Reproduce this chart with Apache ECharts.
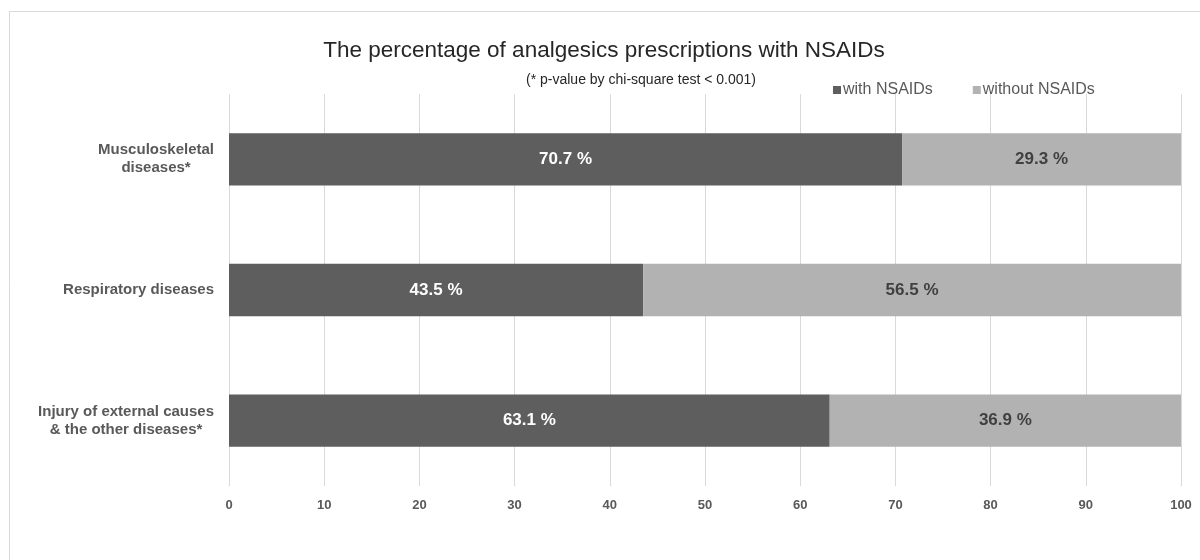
<!DOCTYPE html>
<html><head><meta charset="utf-8">
<script src="https://cdn.jsdelivr.net/npm/echarts@6/dist/echarts.min.js"></script>
<style>html,body{margin:0;padding:0;background:#fff}#c{width:1200px;height:560px}</style>
</head><body><div id="c"></div>
<script>
const categories = ['Musculoskeletal\ndiseases*', 'Respiratory diseases', 'Injury of external causes\n& the other diseases*'];
const withNSAIDs = [70.7, 43.5, 63.1];
const withoutNSAIDs = [29.3, 56.5, 36.9];
const seriesNames = ['with NSAIDs', 'without NSAIDs'];
const xTicks = [0, 10, 20, 30, 40, 50, 60, 70, 80, 90, 100];

const sans = '"Liberation Sans", Arial, sans-serif';
const chart = echarts.init(document.getElementById('c'));
chart.setOption({
  animation: false,
  backgroundColor: '#fff',
  graphic: [{type: 'rect', shape: {x: 9.5, y: 11.5, width: 1200, height: 560}, style: {fill: 'none', stroke: '#d9d9d9', lineWidth: 1}}],
  title: [
    {text: 'The percentage of analgesics prescriptions with NSAIDs', left: 599, top: 34, textAlign: 'center',
     textStyle: {fontFamily: sans, fontSize: 22.5, fontWeight: 'normal', color: '#262626'}},
    {text: '(* p-value by chi-square test < 0.001)', left: 636, top: 68, textAlign: 'center',
     textStyle: {fontFamily: sans, fontSize: 14, fontWeight: 'normal', color: '#262626'}}
  ],
  legend: {
    left: 828, top: 77, itemWidth: 8, itemHeight: 8, itemGap: 40, icon: 'rect',
    textStyle: {fontFamily: sans, fontSize: 16, color: '#595959', padding: [0, 0, 0, -3]},
    data: seriesNames
  },
  grid: {left: 229, right: 19, top: 94, bottom: 74, containLabel: false},
  xAxis: {
    type: 'value', min: 0, max: 100, interval: 10,
    axisLine: {show: false}, axisTick: {show: false},
    splitLine: {show: true, lineStyle: {color: '#d9d9d9', width: 1}},
    axisLabel: {margin: 13, color: '#595959', fontFamily: sans, fontWeight: 'bold', fontSize: 13,
      formatter: v => xTicks.includes(v) ? String(v) : ''}
  },
  yAxis: {
    type: 'category', data: categories, inverse: true,
    axisLine: {show: false}, axisTick: {show: false},
    axisLabel: {margin: 15, color: '#595959', fontFamily: sans, fontWeight: 'bold', fontSize: 15,
      lineHeight: 18,
      formatter: v => v.split('\n').map(s => '{c|' + s + '}').join('\n'),
      rich: {c: {align: 'center', color: '#595959', fontFamily: sans, fontWeight: 'bold', fontSize: 15, lineHeight: 18}}}
  },
  series: [
    {name: seriesNames[0], type: 'bar', stack: 's', data: withNSAIDs, barWidth: '40%',
     itemStyle: {color: '#5e5e5e'},
     label: {show: true, position: 'inside', formatter: p => p.value + ' %', color: '#fff', fontFamily: sans, fontWeight: 'bold', fontSize: 17}},
    {name: seriesNames[1], type: 'bar', stack: 's', data: withoutNSAIDs, barWidth: '40%',
     itemStyle: {color: '#b2b2b2'},
     label: {show: true, position: 'inside', formatter: p => p.value + ' %', color: '#404040', fontFamily: sans, fontWeight: 'bold', fontSize: 17}}
  ]
});
</script></body></html>
